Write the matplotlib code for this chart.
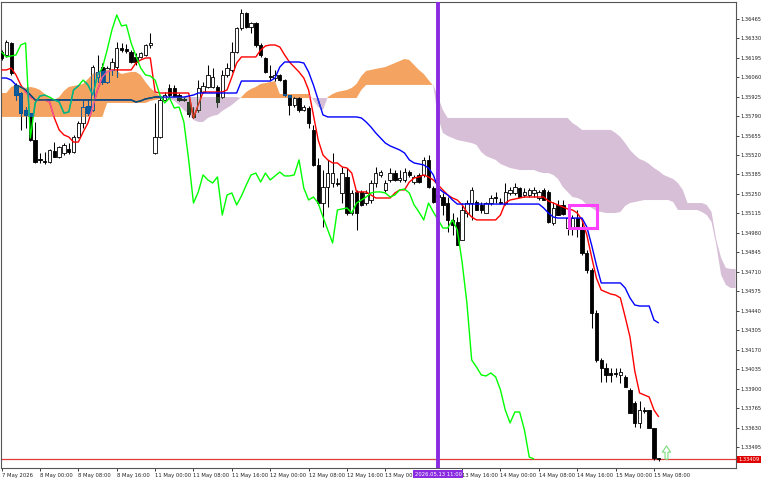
import numpy as np
import matplotlib
matplotlib.use("Agg")
import matplotlib.pyplot as plt
import matplotlib.colors as mcolors
import matplotlib.transforms as mtransforms
from matplotlib.collections import LineCollection, PatchCollection
from matplotlib.patches import Rectangle
from matplotlib.path import Path

# ---------------- data (H1 candles + Ichimoku) ----------------
tick_bars = [0, 8, 16, 24, 32, 40, 48, 56, 64, 72, 80, 96, 104, 112, 120, 128, 136]
tick_labels = ['7 May 2026', '8 May 00:00', '8 May 08:00', '8 May 16:00', '11 May 00:00',
               '11 May 08:00', '11 May 16:00', '12 May 00:00', '12 May 08:00', '12 May 16:00',
               '13 May 00:00', '13 May 16:00', '14 May 00:00', '14 May 08:00', '14 May 16:00',
               '15 May 00:00', '15 May 08:00']
price_ticks = [1.33495, 1.33630, 1.33765, 1.33900, 1.34035, 1.34170, 1.34305, 1.34440,
               1.34575, 1.34710, 1.34845, 1.34980, 1.35115, 1.35250, 1.35385, 1.35520,
               1.35655, 1.35790, 1.35925, 1.36060, 1.36195, 1.36330, 1.36465]

opens = [
    1.36234, 1.36214, 1.36297, 1.36006, 1.35950, 1.35832, 1.35811, 1.35624, 1.35492, 1.35479,
    1.35472, 1.35548, 1.35506, 1.35534, 1.35562, 1.35541, 1.35645, 1.35742, 1.35860, 1.35832,
    1.36061, 1.36130, 1.36026, 1.36110, 1.36130, 1.36262, 1.36255, 1.36234, 1.36200, 1.36200,
    1.36214, 1.36283, 1.35534, 1.35645, 1.35902, 1.35985, 1.35985, 1.35936, 1.35909, 1.35888,
    1.35805, 1.35832, 1.35957, 1.35992, 1.35992, 1.35992, 1.35922, 1.36075, 1.36110, 1.36234,
    1.36401, 1.36505, 1.36408, 1.36436, 1.36283, 1.36193, 1.36068, 1.36054, 1.36075, 1.36040,
    1.35936, 1.35867, 1.35915, 1.35832, 1.35846, 1.35694, 1.35451, 1.35187, 1.35298, 1.35326,
    1.35326, 1.35257, 1.35368, 1.35118, 1.35264, 1.35264, 1.35187, 1.35208, 1.35326, 1.35382,
    1.35278, 1.35347, 1.35395, 1.35347, 1.35347, 1.35402, 1.35333, 1.35382, 1.35382, 1.35486,
    1.35291, 1.35243, 1.35229, 1.35187, 1.35070, 1.35056, 1.34931, 1.35118, 1.35187, 1.35194,
    1.35174, 1.35118, 1.35187, 1.35229, 1.35194, 1.35187, 1.35257, 1.35257, 1.35291, 1.35243,
    1.35243, 1.35257, 1.35222, 1.35278, 1.35264, 1.35049, 1.35174, 1.35174, 1.35014, 1.35021,
    1.35083, 1.35021, 1.34841, 1.34723, 1.34425, 1.34099, 1.34043, 1.34009, 1.34009, 1.33995,
    1.33981, 1.33891, 1.33801, 1.33662, 1.33752, 1.33752, 1.33627, 1.33419]
highs = [
    1.36248, 1.36318, 1.36304, 1.36019, 1.35957, 1.35853, 1.35811, 1.35749, 1.35534, 1.35541,
    1.35562, 1.35610, 1.35583, 1.35603, 1.35603, 1.35659, 1.35756, 1.35902, 1.35902, 1.36144,
    1.36214, 1.36158, 1.36137, 1.36193, 1.36304, 1.36297, 1.36290, 1.36248, 1.36227, 1.36234,
    1.36290, 1.36366, 1.35881, 1.35922, 1.35957, 1.36013, 1.36006, 1.35950, 1.35922, 1.35922,
    1.35853, 1.36040, 1.36026, 1.36144, 1.36123, 1.36006, 1.36110, 1.36158, 1.36304, 1.36408,
    1.36533, 1.36512, 1.36442, 1.36442, 1.36297, 1.36200, 1.36144, 1.36110, 1.36082, 1.36047,
    1.35936, 1.35922, 1.35922, 1.35867, 1.35860, 1.35728, 1.35499, 1.35416, 1.35486, 1.35534,
    1.35361, 1.35437, 1.35430, 1.35278, 1.35278, 1.35278, 1.35278, 1.35347, 1.35437, 1.35416,
    1.35347, 1.35430, 1.35416, 1.35416, 1.35430, 1.35416, 1.35382, 1.35395, 1.35506, 1.35520,
    1.35305, 1.35278, 1.35257, 1.35229, 1.35118, 1.35090, 1.35187, 1.35208, 1.35298, 1.35208,
    1.35194, 1.35194, 1.35243, 1.35264, 1.35222, 1.35326, 1.35298, 1.35326, 1.35298, 1.35291,
    1.35291, 1.35298, 1.35278, 1.35291, 1.35278, 1.35194, 1.35208, 1.35208, 1.35153, 1.35104,
    1.35139, 1.35070, 1.34861, 1.34737, 1.34445, 1.34113, 1.34078, 1.34043, 1.34043, 1.34043,
    1.33995, 1.33905, 1.33814, 1.33814, 1.33773, 1.33752, 1.33627, 1.33419]
lows = [
    1.36179, 1.36200, 1.36075, 1.35902, 1.35694, 1.35707, 1.35617, 1.35465, 1.35465, 1.35458,
    1.35465, 1.35506, 1.35499, 1.35520, 1.35527, 1.35534, 1.35638, 1.35707, 1.35798, 1.35825,
    1.36026, 1.36013, 1.36019, 1.36075, 1.36061, 1.36234, 1.36227, 1.36158, 1.36144, 1.36193,
    1.36207, 1.36262, 1.35527, 1.35638, 1.35895, 1.35922, 1.35922, 1.35895, 1.35895, 1.35784,
    1.35777, 1.35818, 1.35950, 1.35985, 1.35985, 1.35853, 1.35915, 1.36061, 1.36096, 1.36227,
    1.36387, 1.36401, 1.36366, 1.36269, 1.36200, 1.36089, 1.36040, 1.36033, 1.36033, 1.35929,
    1.35798, 1.35853, 1.35818, 1.35825, 1.35707, 1.35444, 1.35174, 1.35021, 1.35160, 1.35298,
    1.35305, 1.35187, 1.35104, 1.35104, 1.35000, 1.35167, 1.35174, 1.35187, 1.35298, 1.35368,
    1.35264, 1.35333, 1.35340, 1.35333, 1.35333, 1.35368, 1.35319, 1.35326, 1.35368, 1.35291,
    1.35187, 1.35208, 1.35104, 1.34986, 1.34966, 1.34896, 1.34931, 1.35090, 1.35070, 1.35139,
    1.35118, 1.35118, 1.35174, 1.35187, 1.35180, 1.35174, 1.35243, 1.35243, 1.35229, 1.35229,
    1.35229, 1.35229, 1.35208, 1.35208, 1.35049, 1.35035, 1.35104, 1.35104, 1.34966, 1.34966,
    1.34952, 1.34827, 1.34702, 1.34321, 1.34085, 1.33946, 1.33946, 1.33946, 1.33981, 1.33939,
    1.33912, 1.33731, 1.33634, 1.33627, 1.33731, 1.33627, 1.33405, 1.33398]
closes = [
    1.36193, 1.36304, 1.36089, 1.35936, 1.35811, 1.35798, 1.35624, 1.35472, 1.35486, 1.35472,
    1.35555, 1.35506, 1.35576, 1.35590, 1.35541, 1.35645, 1.35742, 1.35853, 1.35811, 1.36130,
    1.36096, 1.36026, 1.36123, 1.36165, 1.36262, 1.36248, 1.36241, 1.36165, 1.36165, 1.36227,
    1.36283, 1.36297, 1.35645, 1.35902, 1.35936, 1.35936, 1.35929, 1.35902, 1.35902, 1.35805,
    1.35784, 1.35985, 1.35999, 1.36075, 1.36061, 1.35888, 1.36075, 1.36123, 1.36234, 1.36401,
    1.36505, 1.36408, 1.36436, 1.36283, 1.36214, 1.36096, 1.36061, 1.36075, 1.36040, 1.35936,
    1.35867, 1.35915, 1.35832, 1.35853, 1.35742, 1.35451, 1.35187, 1.35298, 1.35395, 1.35395,
    1.35319, 1.35395, 1.35118, 1.35257, 1.35118, 1.35174, 1.35257, 1.35326, 1.35395, 1.35402,
    1.35326, 1.35395, 1.35347, 1.35361, 1.35402, 1.35382, 1.35368, 1.35333, 1.35486, 1.35298,
    1.35194, 1.35229, 1.35174, 1.35070, 1.35035, 1.34896, 1.35139, 1.35187, 1.35278, 1.35139,
    1.35139, 1.35187, 1.35222, 1.35222, 1.35187, 1.35264, 1.35278, 1.35298, 1.35229, 1.35264,
    1.35278, 1.35278, 1.35264, 1.35208, 1.35056, 1.35153, 1.35104, 1.35111, 1.35083, 1.35083,
    1.35021, 1.34841, 1.34723, 1.34425, 1.34099, 1.34043, 1.33995, 1.33995, 1.34002, 1.34016,
    1.33912, 1.33731, 1.33662, 1.33752, 1.33745, 1.33627, 1.33419, 1.33409]

tenkan = [
    1.36110, 1.36110, 1.36123, 1.36075, 1.36006, 1.35957, 1.35922, 1.35902, 1.35902, 1.35902,
    1.35888, 1.35777, 1.35694, 1.35659, 1.35645, 1.35610, 1.35610, 1.35680, 1.35742, 1.35853,
    1.35971, 1.36061, 1.36096, 1.36110, 1.36110, 1.36110, 1.36110, 1.36110, 1.36158, 1.36179,
    1.36193, 1.36193, 1.35957, 1.35950, 1.35950, 1.35950, 1.35950, 1.35950, 1.35950, 1.35950,
    1.35777, 1.35867, 1.35957, 1.35957, 1.35957, 1.35957, 1.35957, 1.35971, 1.36061, 1.36158,
    1.36200, 1.36200, 1.36200, 1.36200, 1.36248, 1.36276, 1.36283, 1.36283, 1.36269, 1.36214,
    1.36165, 1.36130, 1.36096, 1.36054, 1.35971, 1.35798, 1.35624, 1.35520, 1.35486, 1.35465,
    1.35465, 1.35437, 1.35430, 1.35395, 1.35264, 1.35264, 1.35264, 1.35243, 1.35222, 1.35222,
    1.35222, 1.35222, 1.35257, 1.35278, 1.35278, 1.35333, 1.35361, 1.35368, 1.35382, 1.35368,
    1.35347, 1.35312, 1.35278, 1.35243, 1.35222, 1.35208, 1.35174, 1.35125, 1.35090, 1.35070,
    1.35070, 1.35070, 1.35070, 1.35070, 1.35104, 1.35187, 1.35208, 1.35215, 1.35222, 1.35229,
    1.35229, 1.35229, 1.35229, 1.35229, 1.35201, 1.35187, 1.35174, 1.35160, 1.35146, 1.35139,
    1.35118, 1.35070, 1.34966, 1.34813, 1.34667, 1.34584, 1.34570, 1.34556, 1.34549, 1.34529,
    1.34397, 1.34258, 1.34022, 1.33870, 1.33856, 1.33842, 1.33752, 1.33704]
kijun = [
    1.36054, 1.36054, 1.36040, 1.36006, 1.35992, 1.35971, 1.35936, 1.35902, 1.35902, 1.35902,
    1.35902, 1.35902, 1.35902, 1.35902, 1.35902, 1.35902, 1.35902, 1.35902, 1.35902, 1.35902,
    1.35902, 1.35902, 1.35902, 1.35902, 1.35902, 1.35902, 1.35902, 1.35902, 1.35888, 1.35895,
    1.35909, 1.35915, 1.35922, 1.35922, 1.35922, 1.35922, 1.35922, 1.35922, 1.35922, 1.35929,
    1.35936, 1.35950, 1.35950, 1.35950, 1.35950, 1.35950, 1.35950, 1.35950, 1.35950, 1.35950,
    1.36033, 1.36033, 1.36033, 1.36033, 1.36033, 1.36033, 1.36033, 1.36054, 1.36130, 1.36165,
    1.36165, 1.36165, 1.36165, 1.36158, 1.36096, 1.36006, 1.35902, 1.35798, 1.35784, 1.35784,
    1.35784, 1.35784, 1.35784, 1.35784, 1.35784, 1.35777, 1.35749, 1.35714, 1.35673, 1.35638,
    1.35603, 1.35583, 1.35569, 1.35555, 1.35534, 1.35486, 1.35465, 1.35458, 1.35451, 1.35430,
    1.35382, 1.35291, 1.35264, 1.35243, 1.35208, 1.35180, 1.35180, 1.35180, 1.35180, 1.35180,
    1.35180, 1.35180, 1.35180, 1.35180, 1.35180, 1.35180, 1.35180, 1.35180, 1.35180, 1.35180,
    1.35180, 1.35180, 1.35180, 1.35153, 1.35118, 1.35090, 1.35083, 1.35083, 1.35083, 1.35083,
    1.35083, 1.35083, 1.35021, 1.34896, 1.34757, 1.34633, 1.34633, 1.34633, 1.34633, 1.34633,
    1.34598, 1.34529, 1.34480, 1.34473, 1.34473, 1.34473, 1.34376, 1.34355]
chikou = [
    1.36234, 1.36200, 1.36207, 1.36214, 1.36283, 1.36297, 1.35638, 1.35881, 1.35929, 1.35936,
    1.35922, 1.35902, 1.35888, 1.35811, 1.35818, 1.35971, 1.35999, 1.36040, 1.36006, 1.35936,
    1.36075, 1.36123, 1.36248, 1.36387, 1.36491, 1.36415, 1.36422, 1.36297, 1.36207, 1.36123,
    1.36075, 1.36068, 1.36040, 1.35936, 1.35881, 1.35915, 1.35846, 1.35853, 1.35749, 1.35486,
    1.35187, 1.35264, 1.35382, 1.35347, 1.35326, 1.35368, 1.35104, 1.35243, 1.35257, 1.35174,
    1.35236, 1.35312, 1.35382, 1.35395, 1.35333, 1.35395, 1.35347, 1.35375, 1.35402, 1.35375,
    1.35375, 1.35382, 1.35486, 1.35291, 1.35208, 1.35229, 1.35187, 1.35090, 1.35000, 1.34910,
    1.35139, 1.35146, 1.35153, 1.35118, 1.35187, 1.35208, 1.35229, 1.35257, 1.35264, 1.35264,
    1.35257, 1.35229, 1.35243, 1.35278, 1.35284, 1.35257, 1.35174, 1.35125, 1.35070, 1.35187,
    1.35125, 1.35070, 1.35014, 1.35014, 1.35070, 1.35000, 1.34778, 1.34494, 1.34099, 1.34050,
    1.33995, 1.33988, 1.34009, 1.33981, 1.33891, 1.33752, 1.33662, 1.33738, 1.33738, 1.33613,
    1.33426, 1.33412]
span_a = [
    1.35950, 1.35950, 1.35992, 1.36006, 1.35999, 1.35985, 1.35992, 1.35985, 1.35971, 1.35943,
    1.35915, 1.35902, 1.35922, 1.35964, 1.35992, 1.35999, 1.36006, 1.36013, 1.36047, 1.36082,
    1.36096, 1.36103, 1.36110, 1.36110, 1.36103, 1.36082, 1.36089, 1.36096, 1.36096, 1.36075,
    1.36026, 1.35985, 1.35957, 1.35929, 1.35915, 1.35909, 1.35895, 1.35867, 1.35832, 1.35805,
    1.35763, 1.35749, 1.35749, 1.35777, 1.35791, 1.35798, 1.35825, 1.35846, 1.35867, 1.35895,
    1.35922, 1.35957, 1.35978, 1.35992, 1.36013, 1.36019, 1.36026, 1.36033, 1.35943, 1.35943,
    1.35943, 1.35943, 1.35943, 1.35943, 1.35943, 1.35902, 1.35853, 1.35832, 1.35922, 1.35943,
    1.35957, 1.35964, 1.35971, 1.35985, 1.36013, 1.36068, 1.36103, 1.36110, 1.36117, 1.36123,
    1.36130, 1.36144, 1.36158, 1.36172, 1.36186, 1.36179, 1.36144, 1.36110, 1.36082, 1.36040,
    1.35999, 1.35777, 1.35673, 1.35652, 1.35638, 1.35624, 1.35617, 1.35610, 1.35603, 1.35590,
    1.35541, 1.35513, 1.35499, 1.35486, 1.35458, 1.35444, 1.35430, 1.35423, 1.35416, 1.35416,
    1.35416, 1.35416, 1.35402, 1.35395, 1.35395, 1.35382, 1.35354, 1.35298, 1.35264, 1.35229,
    1.35222, 1.35208, 1.35174, 1.35153, 1.35132, 1.35125, 1.35118, 1.35118, 1.35118, 1.35125,
    1.35167, 1.35187, 1.35194, 1.35201, 1.35208, 1.35208, 1.35208, 1.35208, 1.35208, 1.35208,
    1.35194, 1.35139, 1.35139, 1.35139, 1.35139, 1.35139, 1.35125, 1.35104, 1.35056, 1.34896,
    1.34688, 1.34619, 1.34598, 1.34598]
span_b = [
    1.35784, 1.35784, 1.35784, 1.35784, 1.35784, 1.35784, 1.35784, 1.35784, 1.35784, 1.35784,
    1.35784, 1.35784, 1.35784, 1.35784, 1.35784, 1.35784, 1.35784, 1.35784, 1.35784, 1.35784,
    1.35784, 1.35784, 1.35881, 1.35881, 1.35881, 1.35881, 1.35881, 1.35881, 1.35881, 1.35881,
    1.35881, 1.35895, 1.35902, 1.35909, 1.35915, 1.35922, 1.35922, 1.35922, 1.35922, 1.35922,
    1.35922, 1.35922, 1.35922, 1.35922, 1.35922, 1.35922, 1.35922, 1.35922, 1.35922, 1.35922,
    1.35915, 1.35915, 1.35915, 1.35915, 1.35915, 1.35915, 1.35915, 1.35915, 1.35915, 1.35915,
    1.35915, 1.35915, 1.35915, 1.35915, 1.35915, 1.35915, 1.35915, 1.35915, 1.35915, 1.35915,
    1.35915, 1.35915, 1.35915, 1.35915, 1.35915, 1.35971, 1.36006, 1.36006, 1.36006, 1.36006,
    1.36006, 1.36006, 1.36006, 1.36006, 1.36006, 1.36006, 1.36006, 1.36006, 1.36006, 1.36006,
    1.36006, 1.35922, 1.35832, 1.35777, 1.35777, 1.35777, 1.35777, 1.35777, 1.35777, 1.35777,
    1.35777, 1.35777, 1.35777, 1.35777, 1.35777, 1.35777, 1.35777, 1.35777, 1.35777, 1.35777,
    1.35777, 1.35777, 1.35777, 1.35777, 1.35777, 1.35777, 1.35777, 1.35777, 1.35777, 1.35742,
    1.35721, 1.35694, 1.35694, 1.35694, 1.35694, 1.35694, 1.35694, 1.35694, 1.35673, 1.35645,
    1.35603, 1.35555, 1.35520, 1.35492, 1.35479, 1.35458, 1.35430, 1.35409, 1.35382, 1.35368,
    1.35354, 1.35326, 1.35278, 1.35187, 1.35187, 1.35187, 1.35187, 1.35174, 1.35125, 1.34931,
    1.34806, 1.34737, 1.34730, 1.34730]

current_price = 1.33409
vline_bar = 91
vline_label = '2026.05.13 11:00'
box_bars = [118.2, 124.1]
box_prices = [1.35014, 1.35174]
signal_bars = [138.5]
signal_prices = [1.33461]

# ---------------- styling ----------------
ORANGE = '#f4a460'
THISTLE = '#d8bfd8'
C_TENKAN = '#ff0000'
C_KIJUN = '#0000ff'
C_CHIKOU = '#00ff00'


def xnor_with(cloud):
    cb = (np.array(mcolors.to_rgb(cloud)) * 255).round().astype(int)

    def tf(col):
        ca = (np.array(mcolors.to_rgb(col)) * 255).round().astype(int)
        return tuple((255 - (ca ^ cb)) / 255.0)
    return tf


def ident(col):
    return mcolors.to_rgb(col)


fig = plt.figure(figsize=(7.68, 4.8), dpi=100)
fig.patch.set_facecolor('white')
ax = fig.add_axes([1 / 768, 12 / 480, 735 / 768, 466 / 480])
ax.set_facecolor('white')

n = len(opens)
sa = np.array(span_a)
sb = np.array(span_b)
xc = np.arange(len(sa))
orange_fill = ax.fill_between(xc, sa, sb, where=sa >= sb, interpolate=True,
                              color=ORANGE, lw=0, zorder=1)
thistle_fill = ax.fill_between(xc, sa, sb, where=sa < sb, interpolate=True,
                               color=THISTLE, lw=0, zorder=1)

bw = 0.7


def draw_content(tf, clip=None, z=3.0):
    arts = []
    segs = [[(i, lows[i]), (i, highs[i])] for i in range(n)]
    wl = LineCollection(segs, colors=[tf('#000000')], linewidths=0.75, zorder=z)
    ax.add_collection(wl)
    arts.append(wl)
    rects, faces = [], []
    for i in range(n):
        o, c = opens[i], closes[i]
        rects.append(Rectangle((i - bw / 2, min(o, c)), bw, abs(c - o)))
        faces.append(tf('#ffffff') if c > o else tf('#000000'))
    pc = PatchCollection(rects, facecolors=faces, edgecolors=[tf('#000000')],
                         linewidths=0.6, zorder=z + 0.1)
    ax.add_collection(pc)
    arts.append(pc)
    for vals, col in ((tenkan, C_TENKAN), (kijun, C_KIJUN), (chikou, C_CHIKOU)):
        ln, = ax.plot(np.arange(len(vals)), vals, color=tf(col), lw=1.0, zorder=z + 0.2,
                      solid_joinstyle='round', solid_capstyle='butt')
        arts.append(ln)
    if clip is not None:
        for a in arts:
            a.set_clip_path(clip, ax.transData)


def compound(coll):
    paths = [p for p in coll.get_paths() if len(p.vertices) > 2]
    if not paths:
        return None
    return Path.make_compound_path(*paths)


# current price (bid) line
ax.axhline(current_price, color='#e03c3c', lw=0.9, zorder=2)

draw_content(ident, None, z=3.0)
op = compound(orange_fill)
if op is not None:
    draw_content(xnor_with(ORANGE), op, z=4.0)
tp = compound(thistle_fill)
if tp is not None:
    draw_content(xnor_with(THISTLE), tp, z=5.0)

# chart objects
ax.axvline(vline_bar, color='#8a2be2', lw=2.8, zorder=10)
ax.add_patch(Rectangle((box_bars[0], box_prices[0]), box_bars[1] - box_bars[0],
                       box_prices[1] - box_prices[0], fill=False, ec='#ff40ff', lw=2.2, zorder=11))

arrow = Path([(-0.22, -1.0), (0.22, -1.0), (0.22, 0.05), (0.62, 0.05), (0.0, 1.0),
              (-0.62, 0.05), (-0.22, 0.05), (-0.22, -1.0)],
             [Path.MOVETO] + [Path.LINETO] * 6 + [Path.CLOSEPOLY])
ax.plot(signal_bars, signal_prices, linestyle='none', marker=arrow, markersize=9.5,
        markerfacecolor='white', markeredgecolor='#7ddc7d', markeredgewidth=0.8, zorder=12)

# axes
ax.set_xlim(-0.125, 153.1)
ax.set_ylim(1.333499, 1.36581)
for s in ax.spines.values():
    s.set_color('#555555')
    s.set_linewidth(0.8)

ax.yaxis.tick_right()
ax.set_yticks(price_ticks)
ax.set_yticklabels([f'{v:.5f}' for v in price_ticks])
ax.tick_params(axis='y', length=2.2, width=0.6, pad=1, labelsize=3.7, colors='#222222')
ax.set_xticks(tick_bars)
ax.set_xticklabels(tick_labels)
ax.tick_params(axis='x', length=2.2, width=0.6, pad=1.2, labelsize=3.8, colors='#222222')
for lbl in ax.get_xticklabels():
    lbl.set_horizontalalignment('left')

# label boxes
bt = mtransforms.blended_transform_factory(ax.transData, ax.transAxes)
ax.text(vline_bar, -0.0135, vline_label, transform=bt, ha='center', va='center',
        fontsize=3.8, color='white', clip_on=False, zorder=30,
        bbox=dict(boxstyle='square,pad=0.25', fc='#8a2be2', ec='none'))
bt2 = mtransforms.blended_transform_factory(ax.transAxes, ax.transData)
ax.text(1.0035, current_price, f'{current_price:.5f}', transform=bt2, ha='left', va='center',
        fontsize=3.7, color='white', clip_on=False, zorder=30,
        bbox=dict(boxstyle='square,pad=0.25', fc='#e00000', ec='none'))

fig.savefig('out.png', dpi=100, facecolor='white')
